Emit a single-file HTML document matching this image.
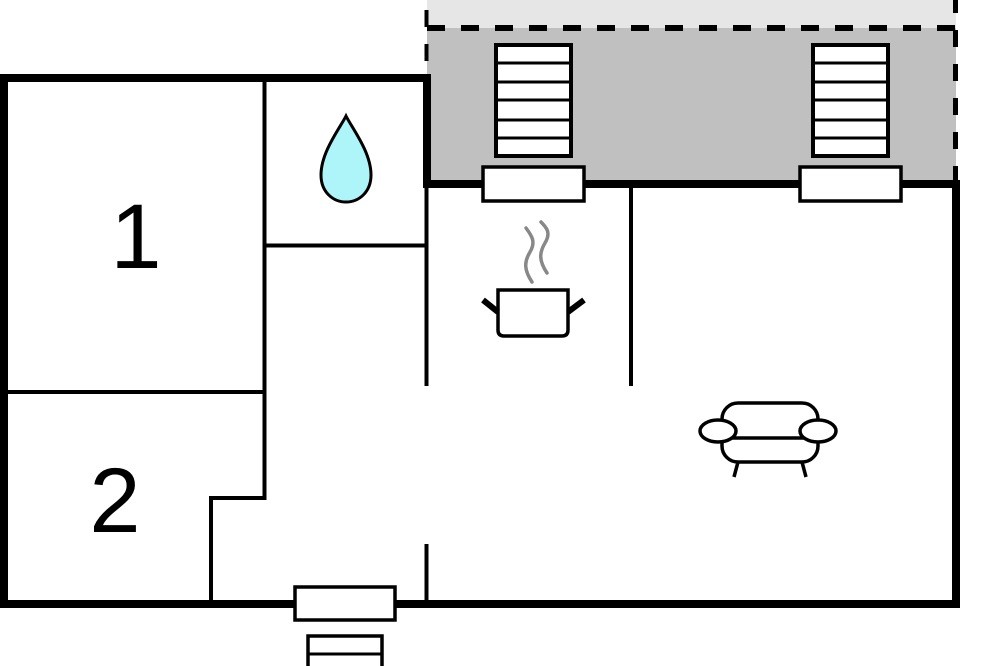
<!DOCTYPE html>
<html><head><meta charset="utf-8"><style>
html,body{margin:0;padding:0;background:#fff;}
svg{display:block;}
.num{font-family:"Liberation Sans",Arial,sans-serif;font-size:92px;fill:#000;}
</style></head><body>
<svg width="1000" height="666" viewBox="0 0 1000 666" xmlns="http://www.w3.org/2000/svg">
<rect x="0" y="0" width="1000" height="666" fill="#fff"/>
<!-- terrace areas -->
<rect x="427" y="0" width="529" height="28" fill="#e6e6e6"/>
<rect x="427" y="28" width="529" height="154" fill="#c0c0c0"/>
<!-- dashed lines -->
<line x1="427" y1="28" x2="956" y2="28" stroke="#000" stroke-width="6" stroke-dasharray="18 16"/>
<line x1="955.5" y1="0" x2="955.5" y2="182" stroke="#000" stroke-width="5" stroke-dasharray="17 17" stroke-dashoffset="4"/>
<line x1="426.5" y1="0" x2="426.5" y2="74" stroke="#000" stroke-width="4" stroke-dasharray="17 17" stroke-dashoffset="-10"/>
<!-- thick outer walls -->
<g stroke="#000" stroke-width="8" fill="none" stroke-linecap="square">
<line x1="4" y1="78" x2="427" y2="78"/>
<line x1="4" y1="78" x2="4" y2="604"/>
<line x1="4" y1="604" x2="956" y2="604"/>
<line x1="956" y1="184" x2="956" y2="604"/>
<line x1="427" y1="78" x2="427" y2="184"/>
<line x1="427" y1="184" x2="956" y2="184"/>
</g>
<!-- thin interior walls -->
<g stroke="#000" stroke-width="4" fill="none">
<line x1="264.5" y1="82" x2="264.5" y2="500"/>
<line x1="8" y1="392" x2="266" y2="392"/>
<line x1="264" y1="245.5" x2="427" y2="245.5"/>
<polyline points="266,498 211,498 211,600"/>
<line x1="426.5" y1="188" x2="426.5" y2="386"/>
<line x1="426.5" y1="544" x2="426.5" y2="600"/>
<line x1="631" y1="188" x2="631" y2="386"/>
</g>
<!-- ladders -->
<g stroke="#000" stroke-width="4" fill="#fff">
<rect x="496" y="45" width="75" height="111"/>
<rect x="813" y="45" width="75" height="111"/>
</g>
<g stroke="#000" stroke-width="3">
<line x1="496" y1="63" x2="571" y2="63"/>
<line x1="496" y1="82" x2="571" y2="82"/>
<line x1="496" y1="100" x2="571" y2="100"/>
<line x1="496" y1="120" x2="571" y2="120"/>
<line x1="496" y1="138" x2="571" y2="138"/>
<line x1="813" y1="63" x2="888" y2="63"/>
<line x1="813" y1="82" x2="888" y2="82"/>
<line x1="813" y1="100" x2="888" y2="100"/>
<line x1="813" y1="120" x2="888" y2="120"/>
<line x1="813" y1="138" x2="888" y2="138"/>
</g>
<!-- window sills / doors -->
<g stroke="#000" stroke-width="3.5" fill="#fff">
<rect x="483" y="167" width="101" height="34"/>
<rect x="800" y="167" width="101" height="34"/>
<rect x="295" y="587" width="100" height="33"/>
<rect x="308" y="636" width="74" height="40"/>
</g>
<line x1="308" y1="654" x2="382" y2="654" stroke="#000" stroke-width="3"/>
<!-- water drop -->
<path d="M346,116 C340,128 321,152 321,175 C321,192 333,202 346,202 C359,202 371,192 371,175 C371,152 352,128 346,116 Z" fill="#aef5f9" stroke="#000" stroke-width="3"/>
<!-- room numbers -->
<text class="num" x="136" y="268" text-anchor="middle">1</text>
<text class="num" x="115" y="532" text-anchor="middle">2</text>
<!-- pot -->
<path d="M532,282 C524,270 524,262 530,252 C536,242 532,236 526,228" fill="none" stroke="#888" stroke-width="3.5" stroke-linecap="round"/>
<path d="M547,273 C539,261 539,253 545,243 C551,233 547,228 541,222" fill="none" stroke="#888" stroke-width="3.5" stroke-linecap="round"/>
<path d="M498,290 L568,290 L568,330 Q568,336 562,336 L504,336 Q498,336 498,330 Z" fill="#fff" stroke="#000" stroke-width="3.5"/>
<line x1="483" y1="300" x2="498" y2="312" stroke="#000" stroke-width="6"/>
<line x1="568" y1="312" x2="584" y2="300" stroke="#000" stroke-width="6"/>
<!-- sofa -->
<g stroke="#000" stroke-width="3.5" fill="#fff">
<rect x="722" y="403" width="96" height="59" rx="16" ry="16"/>
<line x1="732" y1="438" x2="806" y2="438"/>
<ellipse cx="718" cy="431" rx="18" ry="11"/>
<ellipse cx="818" cy="431" rx="18" ry="11"/>
<line x1="738" y1="462" x2="734" y2="477"/>
<line x1="802" y1="462" x2="806" y2="477"/>
</g>
</svg>
</body></html>
